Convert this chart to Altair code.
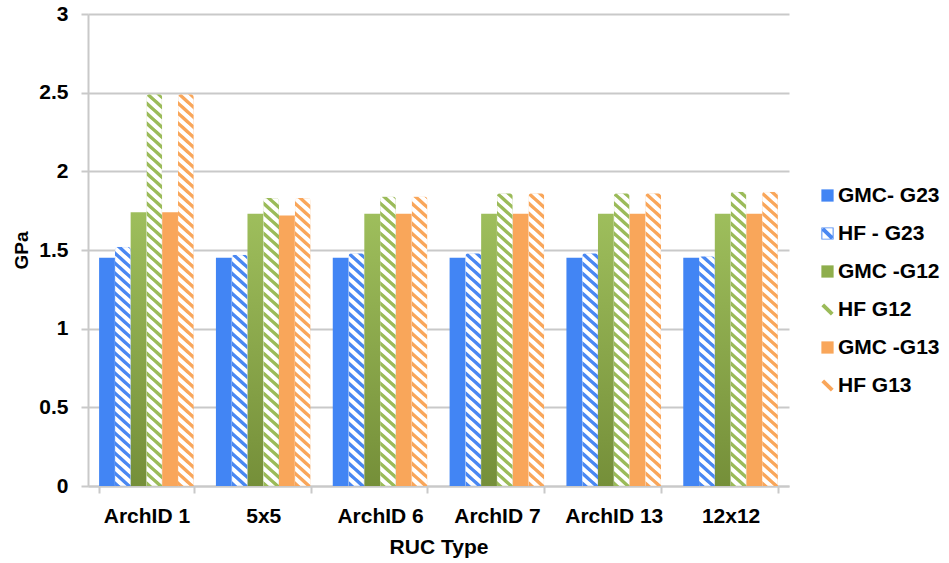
import math
import altair as alt

# ---- data -----------------------------------------------------------------
categories = ["ArchID 1", "5x5", "ArchID 6", "ArchID 7", "ArchID 13", "12x12"]
series_names = ["GMC- G23", "HF - G23", "GMC -G12", "HF G12", "GMC -G13", "HF G13"]

gmc_g23 = [1.45, 1.45, 1.45, 1.45, 1.45, 1.45]
hf_g23 = [1.52, 1.47, 1.48, 1.48, 1.48, 1.46]
gmc_g12 = [1.74, 1.73, 1.73, 1.73, 1.73, 1.73]
hf_g12 = [2.49, 1.83, 1.84, 1.86, 1.86, 1.87]
gmc_g13 = [1.74, 1.72, 1.73, 1.73, 1.73, 1.73]
hf_g13 = [2.49, 1.83, 1.84, 1.86, 1.86, 1.87]

series_values = [gmc_g23, hf_g23, gmc_g12, hf_g12, gmc_g13, hf_g13]
series_hatched = [False, True, False, True, False, True]
series_colors = ["#4285F4", "#4A88F2", "#8EAE4C", "#9BBB59", "#F9A65A", "#F9A65A"]
y_ticks = [0, 0.5, 1, 1.5, 2, 2.5, 3]

# ---- layout / style -------------------------------------------------------
PLOT_W, PLOT_H = 701, 472
Y_MAX = 3
PAD_INNER, PAD_OUTER = 0.19, 0.095
FONT = "Liberation Sans"
GRID = "#C9C9C9"
SLOPE = 0.9       # stripe slope (dy/dx) of the diagonal hatch
PERIOD = 10.0     # vertical stripe period in px
DUTY = 0.45       # coloured fraction of each period
SOFT = 0.12       # edge softening, fraction of a period

step = PLOT_W / (len(categories) - PAD_INNER + 2 * PAD_OUTER)
bar_w = step * (1 - PAD_INNER) / len(series_names)


def stripe_gradient(color, value):
    """Linear gradient with hard stops that renders '\\' stripes on a bar."""
    h = value / Y_MAX * PLOT_H
    w = bar_w
    r = h / (SLOPE * w)
    k = (1 + r) / (1 + r * r)
    n = (SLOPE * w + h) / PERIOD
    e = SOFT / n
    stops = [(0.0, "#FFFFFF")]
    i = 0
    while i / n < 1:
        a = i / n
        for off, col in ((a, "#FFFFFF"), (a + e, color),
                         (a + DUTY / n, color), (a + DUTY / n + e, "#FFFFFF")):
            stops.append((min(off, 1.0), col))
        i += 1
    return {
        "gradient": "linear",
        "x1": 0, "y1": 1, "x2": k, "y2": 1 - k * r,
        "stops": [{"offset": round(o, 5), "color": c} for o, c in stops],
    }


def green_fade():
    return {
        "gradient": "linear", "x1": 0, "y1": 0, "x2": 0, "y2": 1,
        "stops": [{"offset": 0, "color": "#9EBE5C"}, {"offset": 1, "color": "#758F39"}],
    }


rows = []
for name, vals, hatch, col in zip(series_names, series_values, series_hatched, series_colors):
    for cat, v in zip(categories, vals):
        if hatch:
            paint = stripe_gradient(col, v)
        elif name == "GMC -G12":
            paint = green_fade()
        else:
            paint = col
        rows.append({"ruc": cat, "series": name, "gpa": v,
                     "paint": paint, "edge": col, "hatched": hatch})

# legend symbols: plain squares for the solid series, diagonal strokes for hatched ones
diag = "M-1,-0.55L-0.55,-1L1,0.55L0.55,1Z"
boxed_diag = "M-1,-1H1V1H-1Z M-0.84,-0.84V0.84H0.84V-0.84Z " + diag
legend_shapes = ["square", boxed_diag, "square", diag, "square", diag]
legend_colors = ["#4285F4", "#4A88F2", "#8EAE4C", "#9BBB59", "#F9A65A", "#F9A65A"]

# ---- chart ----------------------------------------------------------------
x_enc = alt.X(
    "ruc:N", sort=categories, title="RUC Type",
    scale=alt.Scale(paddingInner=PAD_INNER, paddingOuter=PAD_OUTER),
    axis=alt.Axis(labelAngle=0, tickBand="extent", tickSize=7, tickColor=GRID,
                  tickWidth=2, domainColor=GRID, domainWidth=2, labelPadding=12,
                  titlePadding=10, grid=False),
)
y_enc = alt.Y(
    "gpa:Q", title="GPa",
    scale=alt.Scale(domain=[0, Y_MAX], nice=False, zero=True),
    axis=alt.Axis(values=y_ticks, format="~g", tickSize=7, tickColor=GRID, tickWidth=2,
                  domainColor=GRID, domainWidth=2, gridColor=GRID, gridWidth=2,
                  labelPadding=13, titlePadding=7, titleFontSize=19),
)
xoff = alt.XOffset("series:N", sort=series_names,
                   scale=alt.Scale(paddingInner=0, paddingOuter=0))

base = alt.Chart(alt.Data(values=rows)).encode(
    x=x_enc, y=y_enc, xOffset=xoff,
    fill=alt.Fill("paint:N", scale=None),
)

solid = base.transform_filter("!datum.hatched").mark_bar()
striped = base.transform_filter("datum.hatched").mark_bar(
    cornerRadiusTopLeft=3, cornerRadiusTopRight=3, strokeWidth=1, strokeOpacity=0.35
).encode(stroke=alt.Stroke("edge:N", scale=None))

legend_props = dict(orient="none", legendX=729, legendY=171, title=None)
key = alt.Chart(alt.Data(values=[{"series": s} for s in series_names])).transform_filter(
    "false"
).mark_point(filled=True, opacity=1).encode(
    color=alt.Color("series:N", scale=alt.Scale(domain=series_names, range=legend_colors),
                    legend=alt.Legend(**legend_props)),
    shape=alt.Shape("series:N", scale=alt.Scale(domain=series_names, range=legend_shapes),
                    legend=alt.Legend(**legend_props)),
)

chart = (
    alt.layer(solid, striped, key)
    .properties(
        width=PLOT_W, height=PLOT_H,
        autosize=alt.AutoSizeParams(type="none"),
        padding={"left": 88, "top": 14, "right": 949 - 88 - PLOT_W, "bottom": 563 - 14 - PLOT_H},
        background="white",
    )
    .configure_view(stroke=None)
    .configure_axis(labelFont=FONT, labelFontSize=21, labelFontWeight="bold", labelColor="#000000",
                    titleFont=FONT, titleFontSize=21, titleFontWeight="bold", titleColor="#000000")
    .configure_legend(labelFont=FONT, labelFontSize=21, labelFontWeight="bold", labelColor="#000000",
                      symbolSize=150, rowPadding=16, labelOffset=0, padding=0,
                      symbolStrokeWidth=0)
)

chart.save("out.html", embed_options={"renderer": "svg", "actions": False})
